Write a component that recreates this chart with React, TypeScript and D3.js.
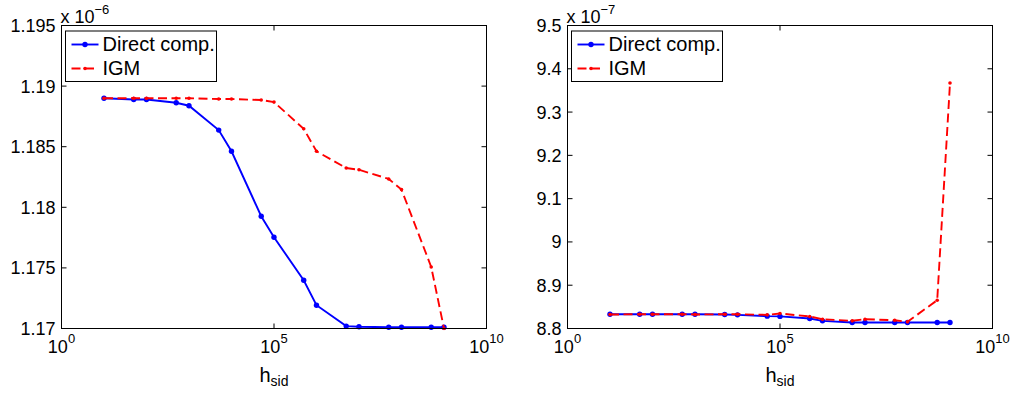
import React from "react";
import * as d3 from "d3";

// ---- Data ----
const hValues = [10, 50, 100, 500, 1e3, 5e3, 1e4, 5e4, 1e5, 5e5, 1e6, 5e6, 1e7, 5e7, 1e8, 5e8, 1e9];

// left panel (x 1e-6)
const leftDirect = [1.1890, 1.1889, 1.1889, 1.18863, 1.18838, 1.18637, 1.18462, 1.17926, 1.17753, 1.17398, 1.17192, 1.1702, 1.17014, 1.1701, 1.1701, 1.1701, 1.1701];
const leftIGM = [1.1890, 1.1890, 1.1890, 1.1890, 1.1890, 1.18893, 1.18893, 1.18885, 1.18868, 1.18648, 1.18462, 1.18324, 1.1831, 1.18234, 1.18146, 1.17508, 1.1700];

// right panel (x 1e-7)
const rightDirect = [8.833, 8.833, 8.833, 8.833, 8.833, 8.8323, 8.8315, 8.8285, 8.828, 8.823, 8.8177, 8.8138, 8.8138, 8.8138, 8.8138, 8.8138, 8.814];
const rightIGM = [8.8323, 8.833, 8.833, 8.833, 8.8323, 8.833, 8.833, 8.8315, 8.8346, 8.8277, 8.8215, 8.8177, 8.8215, 8.819, 8.8154, 8.8654, 9.367];

const xTickExps = [0, 5, 10];
const leftYTicks = ["1.17", "1.175", "1.18", "1.185", "1.19", "1.195"];
const rightYTicks = ["8.8", "8.9", "9", "9.1", "9.2", "9.3", "9.4", "9.5"];

const seriesNames = ["Direct comp.", "IGM"];

const FONT = "'Liberation Sans', Arial, Helvetica, sans-serif";
const BLUE = "#0000ff";
const RED = "#ff0000";
const LW = 1.9;
const DASH = "9,4.5";

type PanelProps = {
  x0: number;
  x1: number;
  y0: number;
  y1: number;
  yTicks: string[];
  yDomain: [number, number];
  exponent: string;
  direct: number[];
  igm: number[];
};

function Panel({ x0, x1, y0, y1, yTicks, yDomain, exponent, direct, igm }: PanelProps) {
  const x = d3.scaleLog().domain([1, 1e10]).range([x0, x1]);
  const y = d3.scaleLinear().domain(yDomain).range([y1, y0]);
  const line = d3
    .line<number>()
    .x((_, i) => x(hValues[i]))
    .y((d) => y(d));
  const tickLen = 5;
  const cx = (x0 + x1) / 2;
  const lx = x0 + 4;
  return (
    <g>
      <defs>
        <clipPath id={`clip-${x0}`}>
          <rect x={x0} y={y0 - 2} width={x1 - x0} height={y1 - y0 + 4} />
        </clipPath>
      </defs>
      {/* data */}
      <g clipPath={`url(#clip-${x0})`}>
        <path d={line(direct) || ""} fill="none" stroke={BLUE} strokeWidth={LW} />
        {direct.map((d, i) => (
          <circle key={"b" + i} cx={x(hValues[i])} cy={y(d)} r={2.7} fill={BLUE} />
        ))}
        <path d={line(igm) || ""} fill="none" stroke={RED} strokeWidth={LW} strokeDasharray={DASH} />
        {igm.map((d, i) => (
          <circle key={"r" + i} cx={x(hValues[i])} cy={y(d)} r={1.8} fill={RED} />
        ))}
      </g>
      {/* frame */}
      <rect x={x0} y={y0} width={x1 - x0} height={y1 - y0} fill="none" stroke="#000" strokeWidth={1} />
      {/* y ticks */}
      {yTicks.map((t) => {
        const yy = y(+t);
        return (
          <g key={"y" + t}>
            <line x1={x0} x2={x0 + tickLen} y1={yy} y2={yy} stroke="#000" />
            <line x1={x1} x2={x1 - tickLen} y1={yy} y2={yy} stroke="#000" />
            <text x={x0 - 6} y={yy} dy="0.36em" textAnchor="end" fontSize={18} fontFamily={FONT}>
              {t}
            </text>
          </g>
        );
      })}
      {/* x ticks */}
      {xTickExps.map((e) => {
        const xx = x(Math.pow(10, e));
        return (
          <g key={"x" + e}>
            <line x1={xx} x2={xx} y1={y1} y2={y1 - tickLen} stroke="#000" />
            <line x1={xx} x2={xx} y1={y0} y2={y0 + tickLen} stroke="#000" />
            <text x={xx} y={y1 + 24} textAnchor="middle" fontSize={18} fontFamily={FONT}>
              10
              <tspan dy={-10} fontSize={13}>
                {String(e)}
              </tspan>
            </text>
          </g>
        );
      })}
      {/* exponent label */}
      <text x={x0 - 1} y={y0 - 3} fontSize={18} fontFamily={FONT}>
        x 10
        <tspan dy={-9} fontSize={13}>
          {exponent}
        </tspan>
      </text>
      {/* x label */}
      <text x={cx} y={y1 + 53} textAnchor="middle" fontSize={20} fontFamily={FONT}>
        h
        <tspan dy={4} fontSize={14}>
          sid
        </tspan>
      </text>
      {/* legend */}
      <rect x={lx} y={y0 + 5.5} width={151} height={50.5} fill="#fff" stroke="#000" strokeWidth={1} />
      <line x1={lx + 6} x2={lx + 33} y1={y0 + 19} y2={y0 + 19} stroke={BLUE} strokeWidth={LW} />
      <circle cx={lx + 19.5} cy={y0 + 19} r={2.7} fill={BLUE} />
      <text x={lx + 37} y={y0 + 25.5} fontSize={20} fontFamily={FONT}>
        {seriesNames[0]}
      </text>
      <line x1={lx + 6} x2={lx + 33} y1={y0 + 43} y2={y0 + 43} stroke={RED} strokeWidth={LW} strokeDasharray={DASH} />
      <circle cx={lx + 19.5} cy={y0 + 43} r={1.8} fill={RED} />
      <text x={lx + 37} y={y0 + 49.5} fontSize={20} fontFamily={FONT}>
        {seriesNames[1]}
      </text>
    </g>
  );
}

export default function App() {
  return (
    <svg
      width={1013}
      height={393}
      style={{ position: "absolute", left: 0, top: 0, background: "#fff" }}
    >
      <rect x={0} y={0} width={1013} height={393} fill="#fff" />
      <Panel
        x0={61.5}
        x1={486.5}
        y0={25.5}
        y1={328.5}
        yTicks={leftYTicks}
        yDomain={[1.17, 1.195]}
        exponent="−6"
        direct={leftDirect}
        igm={leftIGM}
      />
      <Panel
        x0={567.5}
        x1={992.5}
        y0={25.5}
        y1={328.5}
        yTicks={rightYTicks}
        yDomain={[8.8, 9.5]}
        exponent="−7"
        direct={rightDirect}
        igm={rightIGM}
      />
    </svg>
  );
}
